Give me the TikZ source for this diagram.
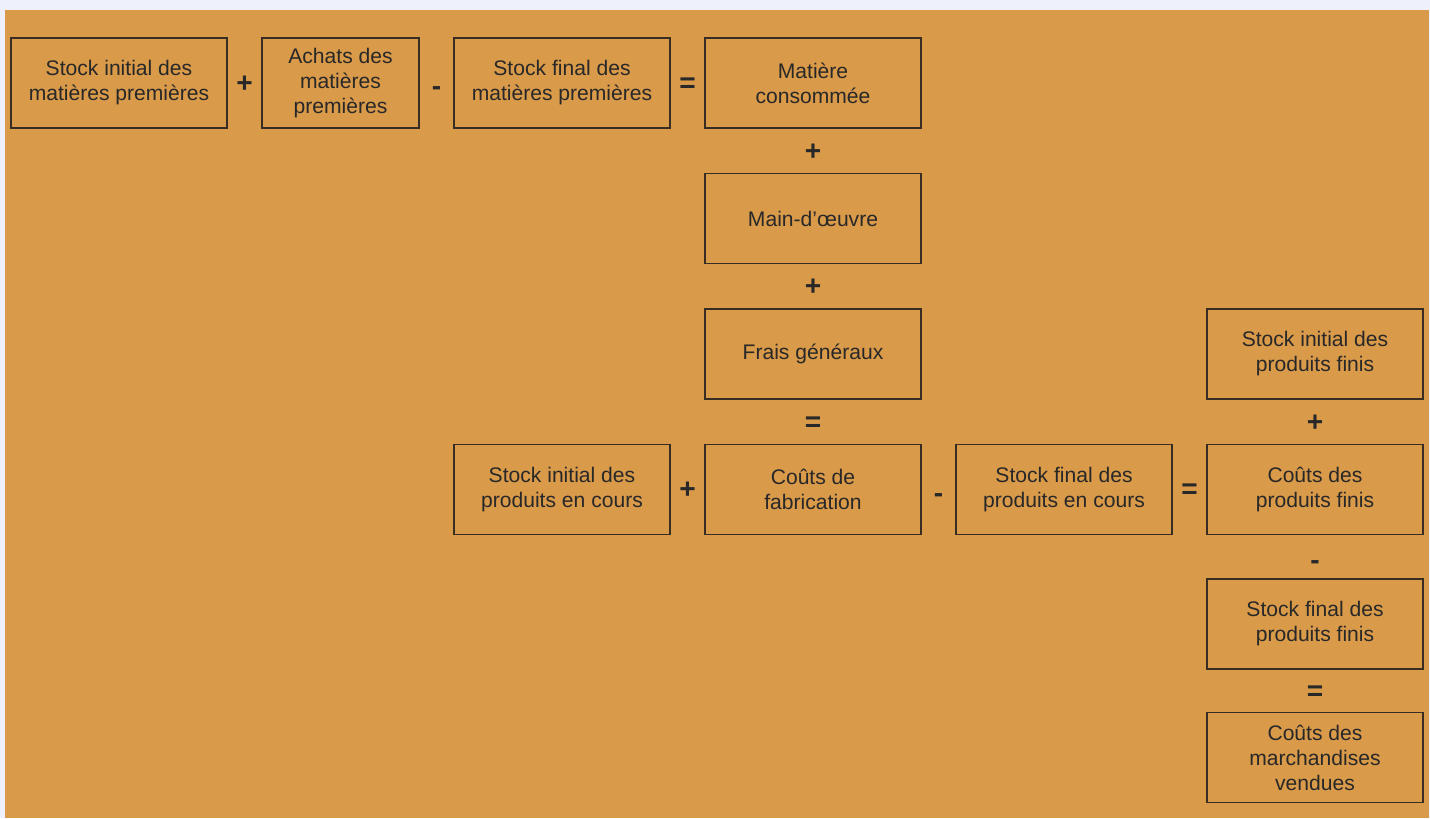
\documentclass[tikz,border=0pt]{standalone}
\usepackage{fontspec}
\setmainfont{Liberation Sans}
\usepackage{tikz}
\definecolor{fond}{RGB}{217,154,74}
\definecolor{bord}{RGB}{238,240,252}
\definecolor{trait}{RGB}{55,45,35}
\definecolor{texte}{RGB}{40,40,40}

\begin{document}
\begin{tikzpicture}[node distance=5.02cm]
    \tikzset{poste/.style = {draw=trait, shape=rectangle, minimum height=1.8cm, minimum width=4.32cm, line width=0.6pt, align=center, text=texte, font=\fontsize{12}{14.2}\selectfont},
    court/.style = {poste, minimum width=3.14cm},
    op/.style = {text=texte, font=\bfseries\fontsize{16}{16}\selectfont, inner sep=0, text height=10.8pt, text depth=0pt},
    moins/.style = {op, yshift=-0.06cm}}

% fond
\fill [bord] (0,0) rectangle (28.6,-16.36);
\fill [fond] (0.1,-0.2) rectangle (28.58,-16.36);
\useasboundingbox (0,0) rectangle (28.6,-16.36);

% matieres premieres
\node (simp) [poste] at (2.38,-1.66) {Stock initial des\\matières premières};
\node (achats) [court, right of=simp, node distance=4.43cm] {Achats des\\matières\\premières};
\node (sfmp) [poste, right of=achats, node distance=4.43cm] {Stock final des\\matières premières};
\node (conso) [poste, right of=sfmp] {Matière\\consommée};
\path (simp.east) -- node [op] {+} (achats.west);
\path (achats.east) -- node [moins] {-} (sfmp.west);
\path (sfmp.east) -- node [op] {=} (conso.west);

% couts de fabrication
\node (mo) [poste, below of=conso, node distance=2.71cm] {Main-d’œuvre};
\node (frais) [poste, below of=mo, node distance=2.71cm] {Frais généraux};
\node (fab) [poste, below of=frais, node distance=2.71cm] {Coûts de\\fabrication};
\path (conso.south) -- node [op] {+} (mo.north);
\path (mo.south) -- node [op] {+} (frais.north);
\path (frais.south) -- node [op] {=} (fab.north);

% produits en cours
\node (sipc) [poste, left of=fab] {Stock initial des\\produits en cours};
\node (sfpc) [poste, right of=fab] {Stock final des\\produits en cours};
\node (cpf) [poste, right of=sfpc] {Coûts des\\produits finis};
\path (sipc.east) -- node [op] {+} (fab.west);
\path (fab.east) -- node [moins] {-} (sfpc.west);
\path (sfpc.east) -- node [op] {=} (cpf.west);

% produits finis
\node (sipf) [poste, above of=cpf, node distance=2.71cm] {Stock initial des\\produits finis};
\node (sfpf) [poste, below of=cpf, node distance=2.69cm] {Stock final des\\produits finis};
\node (cmv) [poste, below of=sfpf, node distance=2.67cm] {Coûts des\\marchandises\\vendues};
\path (sipf.south) -- node [op] {+} (cpf.north);
\path (cpf.south) -- node [moins] {-} (sfpf.north);
\path (sfpf.south) -- node [op] {=} (cmv.north);

\end{tikzpicture}
\end{document}
